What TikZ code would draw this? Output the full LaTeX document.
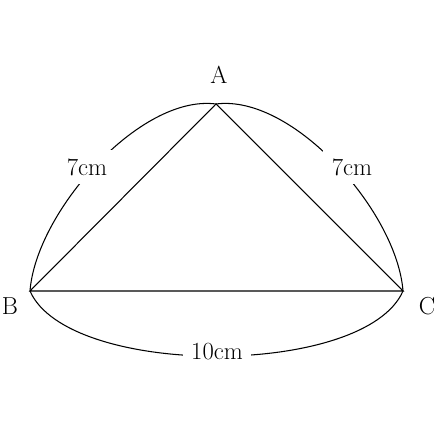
\documentclass[tikz,border=0pt]{standalone}
\usepackage{tikz}
\def\lw{0.75pt}
\newcommand{\bigtext}{\fontsize{17.5}{20}\selectfont}

\begin{document}
\begin{tikzpicture}[x=0.025cm,y=-0.025cm,
		edge/.style={line width=\lw,color=black},
		vname/.style={font=\bigtext,inner sep=0pt},
		lenlabel/.style={font=\bigtext,fill=white,inner sep=6pt}]
	\useasboundingbox (0,0) rectangle (440,425);
	\coordinate (A) at (216,104);
	\coordinate (B) at (30,291);
	\coordinate (C) at (403,291);
	\node[vname] (nA) at (219,75) {A};
	\node[vname] (nB) at (10,306) {B};
	\node[vname] (nC) at (427,306) {C};

	\draw[edge] (A) -- (B) -- (C) -- cycle;
	% arcs for the side lengths
	\draw[edge] (B) .. controls (36,212) and (140,94) .. (A);
	\draw[edge] (A) .. controls (293,94) and (397,212) .. (C);
	\draw[edge] (B) .. controls (68,378) and (365,378) .. (C);

	\node[lenlabel] (AB) at (87,167) {7cm};
	\node[lenlabel] (AC) at (352,167) {7cm};
	\node[lenlabel] (BC) at (217,352) {10cm};
\end{tikzpicture}
\end{document}
